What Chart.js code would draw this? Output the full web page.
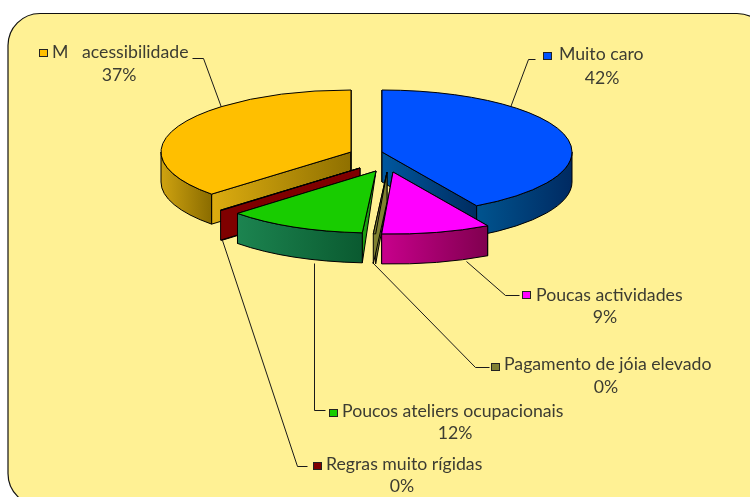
<!DOCTYPE html>
<html>
<head>
<meta charset="utf-8">
<style>html,body{margin:0;padding:0;background:#fff}canvas{display:block}</style>
<script src="https://cdn.jsdelivr.net/npm/chart.js@4"></script>
</head>
<body>
<canvas id="c" width="750" height="497"></canvas>
<script>
const categories = ["Muito caro","Poucas actividades","Pagamento de jóia elevado","Poucos ateliers ocupacionais","Regras muito rígidas","M   acessibilidade"];
const values = [41.7,9.25,0.2,11.85,0.11,36.89];
const percentLabels = ["42%","9%","0%","12%","0%","37%"];
const topColors = ["#0052ff","#ff00ff","#808033","#18cc00","#7f0000","#ffbf00"];

const styles = {
  drawOrder:[5,0,4,3,2,1],
  k:62/190, depth:30,
  apex:[[382,152],[393,172],[387,172],[376,171],[360,168],[351,152]],
  apexDepth:[30,30,30,0,30,30],
  face:[["#00589f","#002c60"],["#cc0090","#80004f"],["#7f8030","#7f8030"],["#22b010","#1c9c10"],["#7f0000","#7f0000"],["#dcac10","#8f7000"]],
  wall:[["#00548f","#002a62"],["#c8008c","#80004f"],["#7f8030","#7f8030"],["#1c8450","#0a5a30"],["#7f0000","#7f0000"],["#cfa310","#8a6c00"]],
  leaders:[
    [[535,59],[528,59],[510,107]],
    [[519,295],[505,295],[466,261]],
    [[489,367],[475,367],[372,262]],
    [[325,410],[314,410],[314,263]],
    [[307,466],[297,466],[222,240]],
    [[192,58],[203,58],[221,107]]
  ],
  keys:[[543,52],[522,291],[491,363],[329,409],[313,462],[39,49]],
  text:[[559,54],[536,295],[504,364],[342,411],[326,464],[52,52]],
  pct:[[602,78],[605,317],[606,387],[455,433],[402,486],[119,75]]
};

const pie3d = {
  id:'pie3d',
  beforeDraw(chart){
    const c=chart.ctx;
    c.save();
    c.fillStyle='#ffffff';c.fillRect(0,0,750,497);
    c.beginPath();c.roundRect(8,13.5,761,492,32);
    c.fillStyle='#fff194';c.fill();
    c.strokeStyle='#111';c.lineWidth=1.2;c.stroke();
    c.restore();
  },
  beforeDatasetsDraw(chart){
    const c=chart.ctx, arcs=chart.getDatasetMeta(0).data, k=styles.k, D=styles.depth;
    c.save();
    c.lineWidth=1;c.lineJoin='round';
    styles.leaders.forEach(l=>{c.strokeStyle='#1a1a1a';c.beginPath();l.forEach((p,i)=>i?c.lineTo(p[0]+.5,p[1]+.5):c.moveTo(p[0]+.5,p[1]+.5));c.stroke();});
    c.strokeStyle='#000';
    styles.drawOrder.forEach(i=>{
      const arc=arcs[i];
      const {x,y,startAngle:s,endAngle:e,outerRadius:r}=arc.getProps(['x','y','startAngle','endAngle','outerRadius'],true);
      const [ax,ay]=styles.apex[i];
      const px=a=>ax+r*Math.cos(a), py=a=>ay+r*k*Math.sin(a);
      const base=arc.options, aD=styles.apexDepth[i];
      const fx=[ax,px(s),px(e)];
      const x0=Math.min(...fx), x1=Math.max(...fx);
      const fg=c.createLinearGradient(x0,0,Math.max(x1,x0+1),0);
      fg.addColorStop(0,styles.face[i][0]);fg.addColorStop(1,styles.face[i][1]);
      [s,e].forEach(a=>{
        c.beginPath();
        c.moveTo(ax,ay);c.lineTo(px(a),py(a));c.lineTo(px(a),py(a)+D);c.lineTo(ax,ay+aD);c.closePath();
        c.fillStyle=fg;c.fill();c.stroke();
      });
      const a0=Math.max(s,0), a1=Math.min(e,Math.PI);
      if(a1>a0 && Math.abs(px(a0)-px(a1))>=4){
        const w=c.createLinearGradient(Math.min(px(a0),px(a1)),0,Math.max(px(a0),px(a1)),0);
        w.addColorStop(0,styles.wall[i][0]);w.addColorStop(1,styles.wall[i][1]);
        c.beginPath();
        c.ellipse(ax,ay,r,r*k,0,a0,a1);
        c.ellipse(ax,ay+D,r,r*k,0,a1,a0,true);
        c.closePath();c.fillStyle=w;c.fill();c.stroke();
      }
      c.save();
      c.translate(ax-x,ay-y*k);c.scale(1,k);
      arc.options=Object.assign({},base,{borderWidth:0});
      arc.draw(c);
      arc.options=base;
      c.restore();
      c.beginPath();
      c.moveTo(ax,ay);c.ellipse(ax,ay,r,r*k,0,s,e);c.closePath();
      c.stroke();
    });
    c.restore();
    return false;
  },
  afterDraw(chart){
    const c=chart.ctx;
    c.save();
    c.font='17.7px Lato';c.textBaseline='middle';
    categories.forEach((t,i)=>{
      const [kx,ky]=styles.keys[i];
      c.fillStyle=topColors[i];c.fillRect(kx+.5,ky+.5,8,7);
      c.strokeStyle='#222';c.lineWidth=1;c.strokeRect(kx+.5,ky+.5,8,7);
      c.fillStyle='#3c3c32';
      c.textAlign='left';c.fillText(t,styles.text[i][0],styles.text[i][1]);
      c.textAlign='center';c.fillText(percentLabels[i],styles.pct[i][0],styles.pct[i][1]);
    });
    c.restore();
  }
};

new Chart(document.getElementById('c'),{
  type:'pie',
  data:{labels:categories,datasets:[{data:values,backgroundColor:topColors,borderWidth:0,radius:190}]},
  options:{responsive:false,animation:false,plugins:{legend:{display:false},tooltip:{enabled:false}},layout:{padding:0}},
  plugins:[pie3d]
});
</script>
</body>
</html>
